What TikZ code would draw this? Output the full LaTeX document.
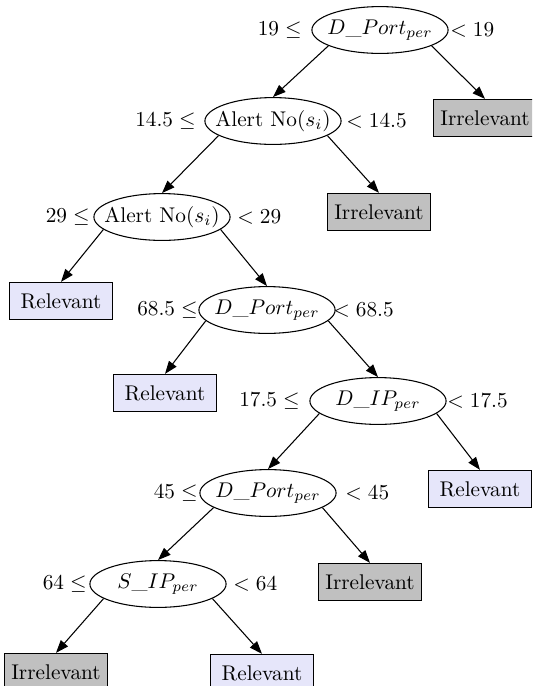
\documentclass[tikz,border=0pt]{standalone}
\usetikzlibrary{shapes.geometric,arrows.meta}
\definecolor{irrgray}{RGB}{192,192,192}
\definecolor{rellav}{RGB}{230,230,250}
\begin{document}
\begin{tikzpicture}[x=0.47pt,y=-0.47pt,
  test/.style={ellipse, draw=black, line width=0.5pt, fill=white, minimum width=64pt, minimum height=22pt, inner sep=0pt},
  irr/.style={rectangle, draw=black, line width=0.5pt, fill=irrgray, minimum width=48pt, minimum height=17.5pt, inner sep=1pt},
  rel/.style={rectangle, draw=black, line width=0.5pt, fill=rellav, minimum width=48pt, minimum height=17.5pt, inner sep=1pt},
  cut/.style={inner sep=0pt},
  edge/.style={-{Triangle[length=6pt,width=4.4pt]}, line width=0.5pt, black}]
\useasboundingbox (0,0) rectangle (532,686);
\clip (0,0) rectangle (532,686);
% tests
\node [test] (n1) at (380,30) {\makebox[0pt]{$D\_Port_{per}$}};
\node [test] (n2) at (273,121) {\makebox[0pt]{Alert No$(s_i)$}};
\node [test] (n3) at (162,217) {\makebox[0pt]{Alert No$(s_i)$}};
\node [test] (n4) at (267,310) {\makebox[0pt]{$D\_Port_{per}$}};
\node [test] (n5) at (378,401) {\makebox[0pt]{$D\_IP_{per}$}};
\node [test] (n6) at (268,493) {\makebox[0pt]{$D\_Port_{per}$}};
\node [test] (n7) at (158,584) {\makebox[0pt]{$S\_IP_{per}$}};
% thresholds
\node [cut, anchor=east] (n1le) at (302,30) {$19\leq$};
\node [cut, anchor=west] (n1gt) at (450,30) {$<19$};
\node [cut, anchor=east] (n2le) at (196,121) {$14.5\leq$};
\node [cut, anchor=west] (n2gt) at (346,121) {$<14.5$};
\node [cut, anchor=east] (n3le) at (90,217) {$29\leq$};
\node [cut, anchor=west] (n3gt) at (237,217) {$<29$};
\node [cut, anchor=east] (n4le) at (198,310) {$68.5\leq$};
\node [cut, anchor=west] (n4gt) at (333,310) {$<68.5$};
\node [cut, anchor=east] (n5le) at (300,401) {$17.5\leq$};
\node [cut, anchor=west] (n5gt) at (447,401) {$<17.5$};
\node [cut, anchor=east] (n6le) at (198,493) {$45\leq$};
\node [cut, anchor=west] (n6gt) at (345,493) {$<45$};
\node [cut, anchor=east] (n7le) at (87,584) {$64\leq$};
\node [cut, anchor=west] (n7gt) at (233,584) {$<64$};
% leaves
\node [irr] (i1) at (485,118) {Irrelevant};
\node [irr] (i2) at (379,212) {Irrelevant};
\node [rel] (r1) at (61,301) {Relevant};
\node [rel] (r2) at (165,393) {Relevant};
\node [rel] (r3) at (480,489) {Relevant};
\node [irr] (i3) at (370,582) {Irrelevant};
\node [irr] (i4) at (56,672) {Irrelevant};
\node [rel] (r4) at (262,673) {Relevant};
% edges
\draw [edge] (n1.197) -- (n2.north);
\draw [edge] (n1.343) -- (i1.north);
\draw [edge] (n2.195) -- (n3.north);
\draw [edge] (n2.345) -- (i2.north);
\draw [edge] (n3.192) -- (r1.north);
\draw [edge] (n3.348) -- (n4.north);
\draw [edge] (n4.190) -- (r2.north);
\draw [edge] (n4.350) -- (n5.north);
\draw [edge] (n5.192) -- (n6.north);
\draw [edge] (n5.348) -- (r3.north);
\draw [edge] (n6.195) -- (n7.north);
\draw [edge] (n6.345) -- (i3.north);
\draw [edge] (n7.195) -- (i4.north);
\draw [edge] (n7.345) -- (r4.north);
\end{tikzpicture}
\end{document}
